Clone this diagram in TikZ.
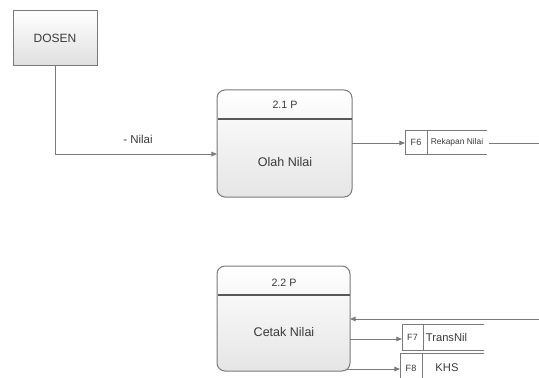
\documentclass[tikz,border=0pt]{standalone}
\usepackage{fontspec}
\setmainfont{Liberation Sans}
\usetikzlibrary{arrows.meta}
\definecolor{ln}{HTML}{7A7A7A}
\definecolor{dv}{HTML}{585858}
\definecolor{tx}{HTML}{3A3A3A}
\begin{document}
\begin{tikzpicture}[x=0.75pt,y=-0.75pt,line width=0.75pt,
  conn/.style={draw=ln,-{Triangle[length=4.2pt,width=3.4pt]}},
  plain/.style={draw=ln},
  ent/.style={draw=ln,top color=white,bottom color=gray!25,minimum width=63pt,minimum height=41.25pt,inner sep=0pt,text=tx,font=\fontsize{9}{10}\selectfont},
  proc/.style={draw=ln,rounded corners=6pt,top color=white,bottom color=gray!20,inner sep=0pt},
  divline/.style={draw=dv,line width=1.8pt},
  pid/.style={text=tx,font=\fontsize{8}{9}\selectfont,inner sep=0pt},
  pname/.style={text=tx,font=\fontsize{9.4}{10}\selectfont,inner sep=0pt},
  flowlbl/.style={text=tx,font=\fontsize{8.6}{10}\selectfont,inner sep=0pt},
  sid/.style={text=tx,font=\fontsize{6.8}{8}\selectfont,inner sep=0pt},
  sname/.style={text=tx,font=\fontsize{8.4}{9}\selectfont,inner sep=0pt},
  ssmall/.style={text=tx,font=\fontsize{6.3}{7}\selectfont,inner sep=0pt}]
\useasboundingbox (0,0) rectangle (539,378);

% entity
\node[ent] (dosen) at (55,38.5) {DOSEN};

% process 2.1
\node[proc,minimum width=101.25pt,minimum height=80.25pt] (p21) at (284.5,143.5) {};
\draw[divline] (217.5,119) -- (351.5,119);
\node[pid] (p21id) at (285,105) {2.1 P};
\node[pname] (p21name) at (285,162) {Olah Nilai};

% process 2.2
\node[proc,minimum width=99.75pt,minimum height=78.75pt] (p22) at (283.5,318.5) {};
\draw[divline] (217.5,295) -- (349.5,295);
\node[pid] (p22id) at (284,283) {2.2 P};
\node[pname] (p22name) at (284,332) {Cetak Nilai};

% DOSEN -> 2.1
\coordinate (p21in) at (217,154);
\draw[conn] (dosen.south) |- (p21in);
\node[flowlbl] (nilai) at (138,139) {- Nilai};

% store F6
\coordinate (f6l) at (405,143);
\draw[plain] (487,130) -- (405,130) -- (405,154) -- (487,154);
\draw[plain] (427,130) -- (427,154);
\node[sid] (f6id) at (416,142) {F6};
\node[ssmall] (f6name) at (457,142.5) {Rekapan Nilai};
\coordinate (p21out) at (352,143);
\draw[conn] (p21out) -- (f6l);
\coordinate (f6end) at (489,143);
\coordinate (rightA) at (539,143);
\draw[plain] (f6end) -- (rightA);

% input into 2.2
\coordinate (rightB) at (539,319);
\coordinate (p22in) at (350,319);
\draw[conn] (rightB) -- (p22in);

% store F7
\draw[plain] (484,324) -- (402,324) -- (402,350) -- (484,350);
\draw[plain] (423,324) -- (423,350);
\node[sid] (f7id) at (412.5,337.5) {F7};
\node[sname] (f7name) at (446.5,337.5) {TransNil};
\coordinate (f7l) at (402,339);
\coordinate (p22outA) at (350,339);
\draw[conn] (p22outA) -- (f7l);

% store F8
\draw[plain] (484,353) -- (400,353) -- (400,380);
\draw[plain] (422,353) -- (422,380);
\node[sid] (f8id) at (411,368) {F8};
\node[sname] (f8name) at (447,367.5) {KHS};
\coordinate (f8l) at (400,369);
\coordinate (p22outB) at (346,369);
\draw[conn] (p22outB) -- (f8l);
\end{tikzpicture}
\end{document}
